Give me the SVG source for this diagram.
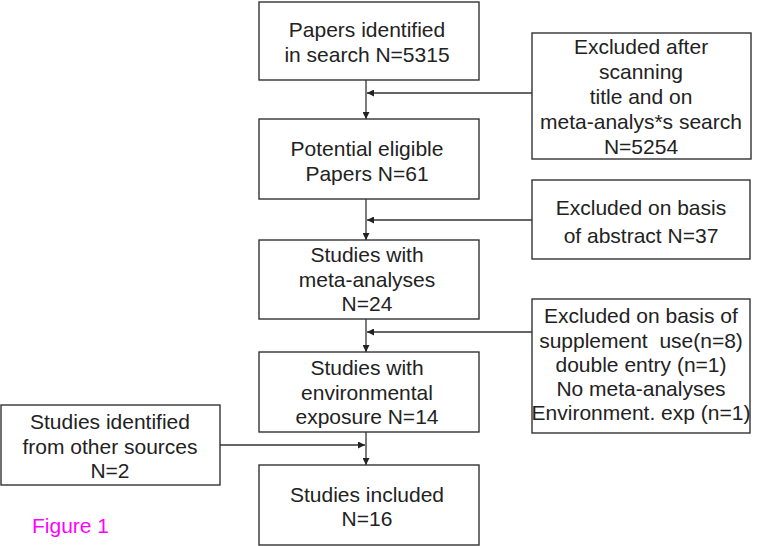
<svg xmlns="http://www.w3.org/2000/svg" width="758" height="546" viewBox="0 0 758 546">
<style>
.box{fill:#fff;stroke:#333;stroke-width:1.4}
.t{font-family:"Liberation Sans",Arial,sans-serif;font-size:21px;fill:#222;text-anchor:middle}
.c{stroke:#333;stroke-width:1.3;fill:none}
</style>
<defs>
<marker id="ah" viewBox="0 0 10 10" refX="10" refY="5" markerWidth="8" markerHeight="7" markerUnits="userSpaceOnUse" orient="auto">
<path d="M0,0 L10,5 L0,10 z" fill="#222"/>
</marker>
</defs>
<rect width="758" height="546" fill="#fff"/>
<g id="connectors">
<line class="c" x1="366" y1="80" x2="366" y2="119" marker-end="url(#ah)"/>
<line class="c" x1="532" y1="93" x2="367" y2="93" marker-end="url(#ah)"/>
<line class="c" x1="366" y1="199" x2="366" y2="240" marker-end="url(#ah)"/>
<line class="c" x1="532" y1="220" x2="367" y2="220" marker-end="url(#ah)"/>
<line class="c" x1="366" y1="319" x2="366" y2="352" marker-end="url(#ah)"/>
<line class="c" x1="532" y1="332" x2="367" y2="332" marker-end="url(#ah)"/>
<line class="c" x1="366" y1="432" x2="366" y2="465" marker-end="url(#ah)"/>
<line class="c" x1="220" y1="445" x2="365" y2="445" marker-end="url(#ah)"/>
</g>
<g id="n1"><rect class="box" x="259" y="2" width="220" height="78"/>
<text class="t" x="367" y="37">Papers identified</text><text class="t" x="367" y="62">in search N=5315</text></g>
<g id="n2"><rect class="box" x="259" y="119" width="220" height="80"/>
<text class="t" x="367" y="156">Potential eligible</text><text class="t" x="367" y="181">Papers N=61</text></g>
<g id="n3"><rect class="box" x="259" y="240" width="220" height="79"/>
<text class="t" x="367" y="262">Studies with</text><text class="t" x="367" y="287">meta-analyses</text><text class="t" x="367" y="311">N=24</text></g>
<g id="n4"><rect class="box" x="259" y="352" width="220" height="80"/>
<text class="t" x="367" y="375">Studies with</text><text class="t" x="367" y="400">environmental</text><text class="t" x="367" y="424">exposure N=14</text></g>
<g id="n5"><rect class="box" x="259" y="465" width="220" height="80"/>
<text class="t" x="367" y="502">Studies included</text><text class="t" x="367" y="526">N=16</text></g>
<g id="e1"><rect class="box" x="532" y="33" width="219" height="126"/>
<text class="t" x="641" y="54">Excluded after</text><text class="t" x="641" y="79">scanning</text><text class="t" x="641" y="104">title and on</text><text class="t" x="641" y="129">meta-analys*s search</text><text class="t" x="641" y="154">N=5254</text></g>
<g id="e2"><rect class="box" x="532" y="180" width="218" height="79"/>
<text class="t" x="641" y="215">Excluded on basis</text><text class="t" x="641" y="243">of abstract N=37</text></g>
<g id="e3"><rect class="box" x="532" y="299" width="218" height="134"/>
<text class="t" x="641" y="323">Excluded on basis of</text><text class="t" x="641" y="348">supplement&#160; use(n=8)</text><text class="t" x="641" y="372">double entry (n=1)</text><text class="t" x="641" y="396">No meta-analyses</text><text class="t" x="641" y="420">Environment. exp (n=1)</text></g>
<g id="s1"><rect class="box" x="1" y="405" width="219" height="80"/>
<text class="t" x="110" y="429">Studies identified</text><text class="t" x="110" y="454">from other sources</text><text class="t" x="110" y="478">N=2</text></g>
<text x="32" y="533" style="font-family:'Liberation Sans',Arial,sans-serif;font-size:21px;fill:#f0f">Figure 1</text>
</svg>
